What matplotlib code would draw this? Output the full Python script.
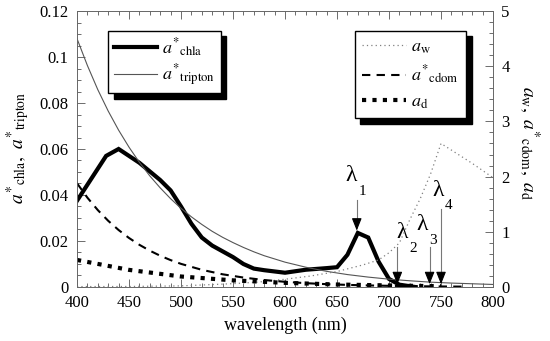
import matplotlib
matplotlib.use("Agg")
import matplotlib.pyplot as plt
from matplotlib.ticker import MultipleLocator

plt.rcParams['font.family'] = ['Liberation Serif', 'DejaVu Serif']
plt.rcParams['mathtext.fontset'] = 'stix'

# ---- data ----
chla_wl = [400, 428, 440, 460, 480, 490, 500, 510, 520, 530, 540, 550, 560, 570, 580,
           600, 620, 640, 650, 660, 670, 680, 690, 700, 710, 725]
chla_val = [0.0375, 0.0570, 0.0600, 0.0540, 0.0465, 0.0420, 0.0350, 0.0275, 0.0215, 0.0180,
            0.0155, 0.0130, 0.0100, 0.0080, 0.0073, 0.0062, 0.0075, 0.0082, 0.0086, 0.0140,
            0.0235, 0.0215, 0.0110, 0.0035, 0.0010, 0.0000]

trip_wl = [400, 410, 420, 430, 440, 450, 460, 470, 480, 490, 500, 510, 520, 530, 540, 550,
           560, 570, 580, 590, 600, 620, 640, 660, 680, 700, 720, 740, 760, 780, 800]
trip_val = [0.1080, 0.0963, 0.0858, 0.0765, 0.0682, 0.0608, 0.0542, 0.0483, 0.0431, 0.0384,
            0.0342, 0.0305, 0.0272, 0.0242, 0.0216, 0.0193, 0.0172, 0.0153, 0.0136, 0.0122,
            0.0108, 0.0086, 0.0068, 0.0054, 0.0043, 0.0034, 0.0027, 0.0021, 0.0017, 0.0014,
            0.0011]

aw_wl = [400, 450, 500, 550, 575, 600, 625, 650, 675, 690, 700, 710, 720, 730, 740, 750,
         760, 770, 780, 790, 800]
aw_val = [0.007, 0.009, 0.020, 0.060, 0.090, 0.140, 0.200, 0.280, 0.400, 0.490, 0.620, 0.800,
          1.220, 1.600, 2.050, 2.600, 2.480, 2.360, 2.240, 2.110, 1.980]

cdom_wl = [400, 410, 420, 430, 440, 450, 460, 470, 480, 490, 500, 520, 540, 560, 580, 600,
           620, 640, 660, 680, 700, 720, 740, 760, 775]
cdom_val = [1.880, 1.618, 1.393, 1.199, 1.032, 0.888, 0.764, 0.658, 0.566, 0.487, 0.419,
            0.311, 0.230, 0.171, 0.126, 0.094, 0.069, 0.051, 0.038, 0.028, 0.021, 0.016,
            0.011, 0.008, 0.006]

ad_wl = [400, 450, 500, 550, 600, 650, 700, 725, 750]
ad_val = [0.49, 0.31, 0.19, 0.12, 0.075, 0.045, 0.028, 0.020, 0.014]

# wavelength markers (left-axis units)
lam_wl = [669, 708, 739, 750]
lam_top = [0.0378, 0.0175, 0.0175, 0.0340]
lam_tip = [0.0245, 0.0012, 0.0012, 0.0012]
lam_subs = ['1', '2', '3', '4']
lam_text_x = [664, 712.5, 731.5, 747]
lam_text_y = [0.0483, 0.0235, 0.0270, 0.0420]

fig = plt.figure(figsize=(5.5, 3.41), dpi=100)
ax = fig.add_axes([0.14, 0.1584, 0.7564, 0.8093])
ax2 = ax.twinx()

l_chla, = ax.plot(chla_wl, chla_val, color='black', lw=3.0, solid_joinstyle='miter',
                  label=r'$a^{*}{}_{\rm chla}$')
l_trip, = ax.plot(trip_wl, trip_val, color='#555555', lw=0.8,
                  label=r'$a^{*}{}_{\rm tripton}$')

l_aw, = ax2.plot(aw_wl, aw_val, color='#808080', lw=0.9, linestyle=(0, (1, 2.5)),
                 label=r'$a_{\rm w}$')
l_cdom, = ax2.plot(cdom_wl, cdom_val, color='black', lw=1.5, linestyle=(0, (4, 3)),
                   label=r'$a^{*}{}_{\rm cdom}$')
l_ad, = ax2.plot(ad_wl, ad_val, color='black', lw=3.0, linestyle=(0, (1, 1.5)),
                 label=r'$a_{\rm d}$')

ax.set_xlim(400, 800)
ax.set_ylim(0, 0.12)
ax2.set_ylim(0, 5)

ax.xaxis.set_major_locator(MultipleLocator(50))
ax.xaxis.set_minor_locator(MultipleLocator(10))
ax.yaxis.set_minor_locator(MultipleLocator(0.005))
ax2.yaxis.set_major_locator(MultipleLocator(1))
ax2.yaxis.set_minor_locator(MultipleLocator(0.2))

ax.set_yticks([0, 0.02, 0.04, 0.06, 0.08, 0.1, 0.12])
ax.set_yticklabels(['0', '0.02', '0.04', '0.06', '0.08', '0.1', '0.12'])

ax.tick_params(axis='x', which='both', direction='in', top=True, bottom=True, labelsize=12, pad=6)
ax.tick_params(axis='y', which='both', direction='in', left=True, right=False, labelsize=12, pad=6)
ax2.tick_params(axis='y', which='both', direction='in', right=True, left=False, labelsize=12, pad=6)
for a in (ax, ax2):
    a.tick_params(which='major', length=6, width=0.6, color='#555555')
    a.tick_params(which='minor', length=3, width=0.6, color='#555555')
    for s in a.spines.values():
        s.set_linewidth(0.6)
        s.set_color('#666666')

ax.set_xlabel('wavelength (nm)', fontsize=13, labelpad=4)
fig.text(0.032, 0.565, r'$a^{*}{}_{\rm chla},\ a^{*}{}_{\rm tripton}$', fontsize=14,
         rotation=90, ha='center', va='center')
fig.text(0.962, 0.58, r'$a_{\rm w},\ a^{*}{}_{\rm cdom},\ a_{\rm d}$', fontsize=14,
         rotation=-90, ha='center', va='center')

# wavelength arrows
for wl, top, tip, sub, tx, ty in zip(lam_wl, lam_top, lam_tip, lam_subs, lam_text_x, lam_text_y):
    ax.plot([wl, wl], [top, tip + 0.003], color='#777777', lw=0.8)
    ax.annotate('', xy=(wl, tip), xytext=(wl, tip + 0.0045),
                arrowprops=dict(arrowstyle='-|>,head_length=0.75,head_width=0.3',
                                color='black', lw=0.8, shrinkA=0, shrinkB=0))
    ax.text(tx, ty, '\u03bb', fontsize=17, ha='center', va='center')
    ax.text(tx + 10.5, ty - 0.0066, sub, fontsize=11, ha='center', va='center')

shadow = {'ox': 4, 'oy': -4, 'color': 'black', 'alpha': 1.0}
leg1 = ax.legend(handles=[l_chla, l_trip], loc='upper left', bbox_to_anchor=(0.075, 0.928),
                 borderaxespad=0, fancybox=False, edgecolor='black', framealpha=1,
                 shadow=shadow, handlelength=2.4, fontsize=13, borderpad=0.3,
                 labelspacing=0.2, handletextpad=0.3)
leg1.get_frame().set_linewidth(1.0)

leg2 = ax2.legend(handles=[l_aw, l_cdom, l_ad], loc='upper left', bbox_to_anchor=(0.668, 0.928),
                  borderaxespad=0, fancybox=False, edgecolor='black', framealpha=1,
                  shadow=shadow, handlelength=2.4, fontsize=13, borderpad=0.42,
                  labelspacing=0.42, handletextpad=0.3)
leg2.get_frame().set_linewidth(1.0)

fig.savefig('out.png', dpi=100)
